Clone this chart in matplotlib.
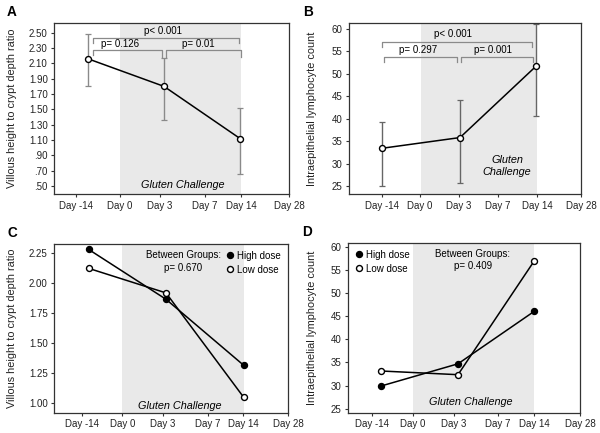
import matplotlib
matplotlib.use("Agg")
import matplotlib.pyplot as plt
from matplotlib.lines import Line2D

plt.rcParams['font.family'] = ['Liberation Sans', 'DejaVu Sans']

days = ["Day -14", "Day 0", "Day 3", "Day 7", "Day 14", "Day 28"]
sample_days = ["Day -14", "Day 3", "Day 14"]

# Panel A: villous height / crypt depth ratio (mean, error bar low/high)
a_mean = [2.16, 1.80, 1.12]
a_low = [1.81, 1.36, 0.66]
a_high = [2.48, 2.17, 1.52]
a_yticks = [0.50, 0.70, 0.90, 1.10, 1.30, 1.50, 1.70, 1.90, 2.10, 2.30, 2.50]
a_yticklabels = [".50", ".70", ".90", "1.10", "1.30", "1.50", "1.70", "1.90", "2.10", "2.30", "2.50"]
a_pvals = ["p= 0.126", "p= 0.01", "p< 0.001"]

# Panel B: intraepithelial lymphocyte count
b_mean = [33.4, 35.8, 51.7]
b_low = [24.9, 25.6, 40.7]
b_high = [39.3, 44.2, 61.1]
b_yticks = [25, 30, 35, 40, 45, 50, 55, 60]
b_pvals = ["p= 0.297", "p= 0.001", "p< 0.001"]

# Panel C: by dose
c_high = [2.283, 1.867, 1.317]
c_low = [2.125, 1.92, 1.05]
c_yticks = [1.00, 1.25, 1.50, 1.75, 2.00, 2.25]
c_p = "p= 0.670"

# Panel D: by dose
d_high = [29.9, 34.7, 46.0]
d_low = [33.15, 32.35, 56.85]
d_yticks = [25, 30, 35, 40, 45, 50, 55, 60]
d_p = "p= 0.409"

series_names = ["High dose", "Low dose"]

# ---- layout (axis units in pixel-like spacing per panel) ----
layout = {
    "A": dict(rect=[54, 23, 289, 194.3], ticks=[21.7, 66, 106, 151, 187, 235],
              pts=[34, 110, 186], shade=(66, 187), ylim=(0.392, 2.627)),
    "B": dict(rect=[349, 23, 581, 194.3], ticks=[32.7, 71, 110, 149, 188, 232],
              pts=[32.7, 111, 187], shade=(71.7, 188.3), ylim=(23.15, 61.34)),
    "C": dict(rect=[54, 243.7, 288, 412.7], ticks=[27.7, 68.3, 108.7, 153.7, 189, 234],
              pts=[34.5, 112, 189.7], shade=(68.3, 189.7), ylim=(0.922, 2.33)),
    "D": dict(rect=[348, 242.7, 580, 412.7], ticks=[24, 65, 106, 150, 186, 232],
              pts=[33, 110, 186], shade=(65, 186), ylim=(24.14, 60.86)),
}

W, H = 600, 433
fig = plt.figure(figsize=(6, 4.33), dpi=100)

TICK_FS = 7.0
LAB_FS = 7.8
SPINE = "#333333"
SHADE = "#e9e9e9"
GREY = "#8a8a8a"
MS = 4.3


def make_ax(key, ylabel):
    L = layout[key]
    x0, y0, x1, y1 = L["rect"]
    ax = fig.add_axes([x0 / W, 1 - y1 / H, (x1 - x0) / W, (y1 - y0) / H])
    ax.set_xlim(0, x1 - x0)
    ax.set_ylim(*L["ylim"])
    ax.axvspan(L["shade"][0], L["shade"][1], color=SHADE, zorder=0, lw=0)
    ax.set_xticks(L["ticks"])
    ax.set_xticklabels(days, fontsize=TICK_FS)
    for s in ax.spines.values():
        s.set_color(SPINE)
        s.set_linewidth(0.9)
    ax.tick_params(axis="both", length=2.5, width=0.8, color=SPINE, pad=2,
                   labelsize=TICK_FS, labelcolor="#222222")
    ax.set_ylabel(ylabel, fontsize=LAB_FS, color="#222222")
    fig.text((x0 - 54 + 7) / W if key in "AC" else (x0 - 349 + 303) / W,
             1 - (y0 - 10.5) / H, key, fontsize=9.8, fontweight="bold",
             va="center", ha="left")
    return ax, L


def bracket(ax, xa, xb, y, drop_a, drop_b, color=GREY):
    ax.plot([xa, xa, xb, xb], [y - drop_a, y, y, y - drop_b], color=color,
            lw=0.9, zorder=3, clip_on=False)


def dose_legend(ax, **kw):
    handles = [Line2D([], [], ls="none", marker="o", ms=MS, mfc="black", mec="black", mew=1.0),
               Line2D([], [], ls="none", marker="o", ms=MS, mfc="white", mec="black", mew=1.0)]
    ax.legend(handles, series_names, fontsize=TICK_FS, frameon=False, handlelength=0.8,
              handletextpad=0.4, borderaxespad=0.3, labelspacing=0.45, **kw)


# ---- A ----
ax, L = make_ax("A", "Villous height to crypt depth ratio")
ax.set_yticks(a_yticks)
ax.set_yticklabels(a_yticklabels)
x = L["pts"]
yerr = [[m - l for m, l in zip(a_mean, a_low)], [h - m for m, h in zip(a_mean, a_high)]]
ax.errorbar(x, a_mean, yerr=yerr, fmt="none", ecolor=GREY, elinewidth=1.0,
            capsize=2.5, capthick=0.9, zorder=2)
ax.plot(x, a_mean, color="black", lw=1.1, marker="o", ms=MS, mfc="white",
        mec="black", mew=1.0, zorder=4)
bracket(ax, 39, 108.3, 2.274, 0.064, 0.094)
bracket(ax, 111.7, 186.7, 2.274, 0.094, 0.094)
bracket(ax, 39, 185, 2.435, 0.065, 0.065)
ax.text(66, 2.35, a_pvals[0], fontsize=TICK_FS, ha="center", va="center")
ax.text(144, 2.35, a_pvals[1], fontsize=TICK_FS, ha="center", va="center")
ax.text(109, 2.52, a_pvals[2], fontsize=TICK_FS, ha="center", va="center")
ax.text(129, 0.51, "Gluten Challenge", fontsize=LAB_FS, style="italic",
        ha="center", va="center")
ax.yaxis.set_label_coords((17 - 54) / 235, 0.5)

# ---- B ----
ax, L = make_ax("B", "Intraepithelial lymphocyte count")
ax.set_yticks(b_yticks)
x = L["pts"]
yerr = [[m - l for m, l in zip(b_mean, b_low)], [h - m for m, h in zip(b_mean, b_high)]]
ax.errorbar(x, b_mean, yerr=yerr, fmt="none", ecolor="#666666", elinewidth=1.0,
            capsize=2.5, capthick=0.9, zorder=2)
ax.plot(x, b_mean, color="black", lw=1.1, marker="o", ms=MS, mfc="white",
        mec="black", mew=1.0, zorder=4)
bracket(ax, 35, 108, 53.8, 1.1, 1.1)
bracket(ax, 112, 183.7, 53.8, 1.1, 1.1)
bracket(ax, 32.7, 183, 57.17, 1.12, 1.12)
ax.text(69, 55.3, b_pvals[0], fontsize=TICK_FS, ha="center", va="center")
ax.text(144, 55.3, b_pvals[1], fontsize=TICK_FS, ha="center", va="center")
ax.text(104, 58.9, b_pvals[2], fontsize=TICK_FS, ha="center", va="center")
ax.text(158, 29.5, "Gluten\nChallenge", fontsize=LAB_FS, style="italic",
        ha="center", va="center", linespacing=1.25)
ax.yaxis.set_label_coords((317 - 349) / 232, 0.5)

# ---- C ----
ax, L = make_ax("C", "Villous height to crypt depth ratio")
ax.set_yticks(c_yticks)
ax.set_yticklabels(["%.2f" % v for v in c_yticks])
x = L["pts"]
ax.plot(x, c_high, color="black", lw=1.1, marker="o", ms=MS, mfc="black",
        mec="black", mew=1.0, zorder=4)
ax.plot(x, c_low, color="black", lw=1.1, marker="o", ms=MS, mfc="white",
        mec="black", mew=1.0, zorder=5)
dose_legend(ax, loc="upper right", bbox_to_anchor=(1.0, 1.0))
ax.text(129, 2.275, "Between Groups:\n" + c_p, fontsize=TICK_FS, ha="center",
        va="top", linespacing=1.3)
ax.text(126, 0.98, "Gluten Challenge", fontsize=LAB_FS, style="italic",
        ha="center", va="center")
ax.yaxis.set_label_coords((17 - 54) / 234, 0.5)

# ---- D ----
ax, L = make_ax("D", "Intraepithelial lymphocyte count")
ax.set_yticks(d_yticks)
x = L["pts"]
ax.plot(x, d_high, color="black", lw=1.1, marker="o", ms=MS, mfc="black",
        mec="black", mew=1.0, zorder=4)
ax.plot(x, d_low, color="black", lw=1.1, marker="o", ms=MS, mfc="white",
        mec="black", mew=1.0, zorder=5)
dose_legend(ax, loc="upper left")
ax.text(125, 59.6, "Between Groups:\n" + d_p, fontsize=TICK_FS, ha="center",
        va="top", linespacing=1.3)
ax.text(123, 26.4, "Gluten Challenge", fontsize=LAB_FS, style="italic",
        ha="center", va="center")
ax.yaxis.set_label_coords((317 - 348) / 232, 0.5)

fig.savefig("out.png", dpi=100)
